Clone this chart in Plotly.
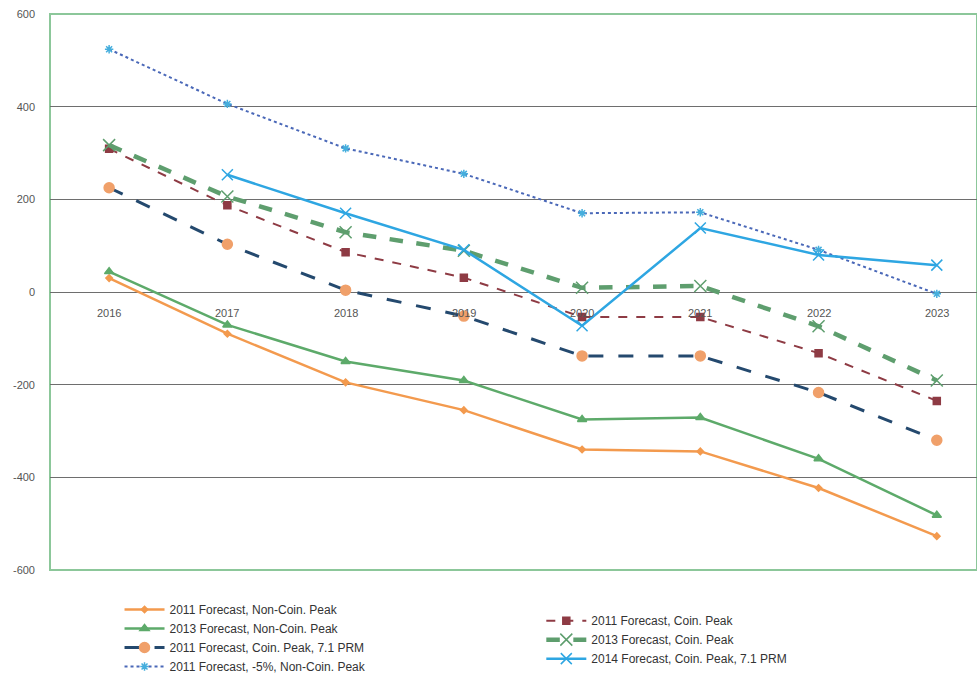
import plotly.graph_objects as go

years = ["2016", "2017", "2018", "2019", "2020", "2021", "2022", "2023"]

s2011_noncoin = [30, -90, -195, -255, -340, -344, -423, -527]
s2013_noncoin = [44, -71, -150, -191, -275, -271, -360, -482]
s2011_coin_prm = [225, 103, 4, -52, -138, -138, -217, -320]
s2011_minus5 = [524, 406, 310, 255, 170, 172, 91, -4]
s2011_coin = [309, 187, 86, 31, -54, -54, -132, -235]
s2013_coin = [317, 206, 129, 89, 9, 13, -74, -191]
s2014_coin_prm = [None, 253, 170, 91, -73, 138, 80, 58]

y_ticks = [600, 400, 200, 0, -200, -400, -600]
y_labels = ["600", "400", "200", "0", "-200", "-400", "-600"]

fig = go.Figure()

def add(name, vals, color, width, dash, msym, msize, mcolor, legend):
    fig.add_trace(go.Scatter(
        x=years, y=vals, name=name, mode="lines+markers",
        line=dict(color=color, width=width, dash=dash),
        marker=dict(symbol=msym, size=msize, color=mcolor,
                    line=dict(color=mcolor, width=1.5)),
        legend=legend, connectgaps=False))

add("2011 Forecast, Non-Coin. Peak", s2011_noncoin, "#F39A4E", 2.5, "solid", "diamond", 5, "#F39A4E", "legend")
add("2013 Forecast, Non-Coin. Peak", s2013_noncoin, "#5DAA6A", 2.5, "solid", "triangle-up", 8, "#5DAA6A", "legend")
add("2011 Forecast, Coin. Peak, 7.1 PRM", s2011_coin_prm, "#24496E", 3, "longdash", "circle", 10, "#F0A06A", "legend")
add("2011 Forecast, -5%, Non-Coin. Peak", s2011_minus5, "#4A68B8", 2, "dot", "asterisk-open", 7, "#45AEDD", "legend")
add("2011 Forecast, Coin. Peak", s2011_coin, "#8E3B44", 2, "dash", "square", 7, "#8E3B44", "legend2")
add("2013 Forecast, Coin. Peak", s2013_coin, "#5E9E6E", 4.5, "dash", "x-thin-open", 12, "#5E9E6E", "legend2")
add("2014 Forecast, Coin. Peak, 7.1 PRM", s2014_coin_prm, "#2EA6E2", 2.5, "solid", "x-thin-open", 11, "#2EA6E2", "legend2")

for i, yr in enumerate(years):
    fig.add_annotation(x=i, y=0, xref="x", yref="y", text=yr, showarrow=False,
                       yshift=-21, font=dict(size=11, color="#555555"))

fig.add_shape(type="rect", xref="paper", yref="paper", x0=0, x1=1, y0=0, y1=1,
              line=dict(color="#8CC79A", width=2), layer="below")

fig.update_layout(
    width=977, height=690,
    margin=dict(l=50, r=0, t=14, b=120),
    plot_bgcolor="white", paper_bgcolor="white",
    font=dict(family="Liberation Sans, Arial", color="#444444"),
    xaxis=dict(type="category", range=[-0.5, 7.34], showticklabels=False,
               showgrid=False, zeroline=False, showline=False),
    yaxis=dict(range=[-600, 600], tickvals=y_ticks, ticktext=y_labels, showgrid=True,
               gridcolor="#6E6E6E", gridwidth=1, zeroline=True,
               zerolinecolor="#6E6E6E", zerolinewidth=1,
               tickfont=dict(size=11, color="#555555"), ticks="",
               ticklabelstandoff=14, showline=False),
    legend=dict(x=0.075, y=-0.045, xanchor="left", yanchor="top",
                font=dict(size=12, color="#333333"), tracegroupgap=0,
                itemwidth=40, bgcolor="rgba(0,0,0,0)"),
    legend2=dict(x=0.53, y=-0.065, xanchor="left", yanchor="top",
                 font=dict(size=12, color="#333333"), tracegroupgap=0,
                 itemwidth=40, bgcolor="rgba(0,0,0,0)"),
)

fig.write_html("out.html")
